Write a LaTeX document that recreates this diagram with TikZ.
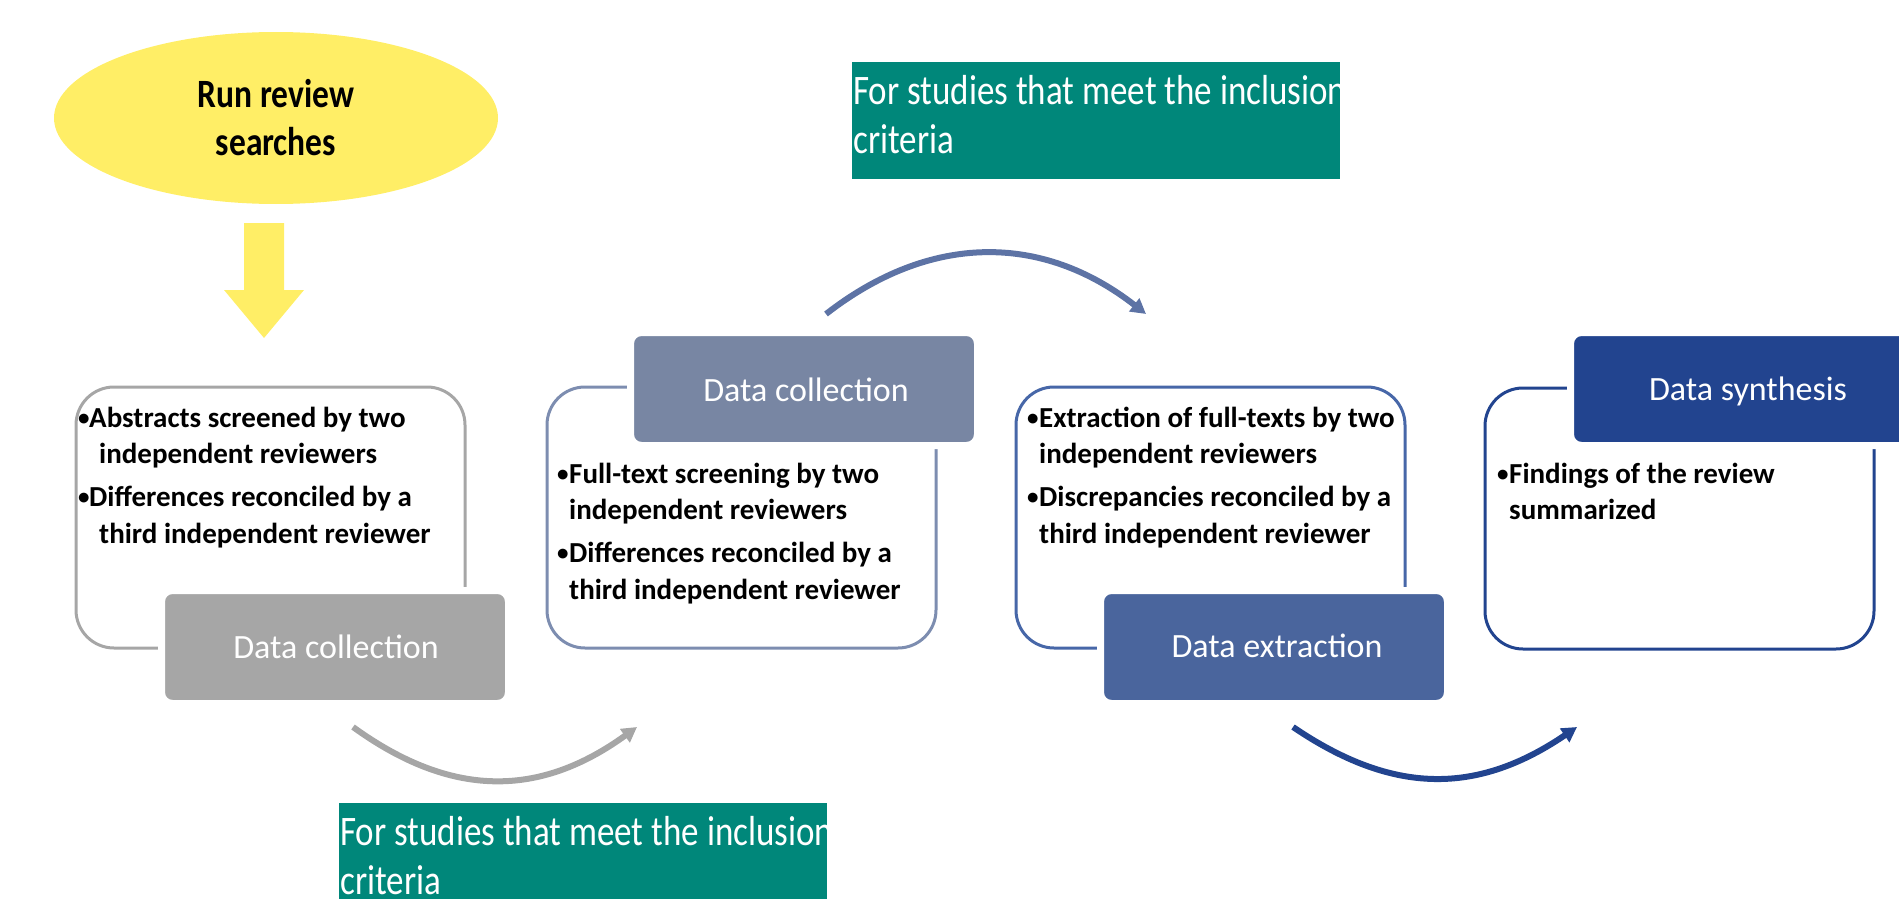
\documentclass[tikz,border=0pt]{standalone}
\usepackage{fontspec}
\setmainfont{Carlito}
\usetikzlibrary{arrows.meta,shapes.geometric}
\definecolor{yel}{HTML}{FFEE66}
\definecolor{tealbox}{HTML}{00877A}
\definecolor{grayc}{HTML}{A6A6A6}
\definecolor{slatefill}{HTML}{7886A3}
\definecolor{slateline}{HTML}{7D8DB0}
\definecolor{midfill}{HTML}{4A659D}
\definecolor{midline}{HTML}{4767A8}
\definecolor{darkfill}{HTML}{22448F}
\definecolor{arcslate}{HTML}{5D73A5}
\newcommand{\bul}[1][12pt]{\makebox[#1][l]{\raisebox{1.6pt}{\fontsize{23}{23}\selectfont •}}}
\begin{document}
\begin{tikzpicture}[x=1pt,y=-1pt,
  outline/.style={line width=3pt, rounded corners=38pt, minimum width=389pt, minimum height=261pt, anchor=north west, inner sep=0pt, outer sep=0pt},
  labelbox/.style={draw=white, line width=7pt, rounded corners=11pt, minimum width=347pt, minimum height=113pt, anchor=north west, inner sep=0pt, outer sep=0pt},
  labeltext/.style={anchor=base, inner sep=0pt, text=white, font=\fontsize{34}{40}\selectfont},
  bullets/.style={anchor=base west, inner sep=0pt, font=\bfseries\fontsize{29}{36.5}\selectfont},
  tealnode/.style={fill=tealbox, anchor=north west, inner sep=0pt, outer sep=0pt, minimum width=488pt, minimum height=117pt},
  tealtext/.style={anchor=base west, inner sep=0pt, text=white, font=\fontsize{35}{41}\selectfont},
  curvearrow/.style={line width=6pt, -{Triangle[length=15pt,width=16pt]}},
]
\useasboundingbox (0,0) rectangle (1899,899);
\clip (0,0) rectangle (1899,899);

% start ellipse and arrow
\node (run) [ellipse, fill=yel, minimum width=444pt, minimum height=172pt, inner sep=0pt] at (276,118) {};
\node (runtext) [anchor=base, inner sep=0pt, font=\bfseries\fontsize{33.5}{40.8}\selectfont] at (276,107)
  {\scalebox{1}[1.2]{\begin{tabular}[t]{@{}c@{}}Run review\\searches\end{tabular}}};
\fill[yel] (244,223) -- (284,223) -- (284,290) -- (304,290) -- (264,338) -- (224,290) -- (244,290) -- cycle;

% outline boxes
\node (b1) [outline, draw=grayc] at (76,387) {};
\node (b2) [outline, draw=slateline] at (547,387) {};
\node (b3) [outline, draw=midline] at (1016,387) {};
\node (b4) [outline, draw=darkfill] at (1485,388) {};

% label boxes (white halo hides the outline beneath)
\node (l1) [labelbox, fill=grayc] at (161.5,590.5) {};
\node (l2) [labelbox, fill=slatefill] at (630.5,332.5) {};
\node (l3) [labelbox, fill=midfill] at (1100.5,590.5) {};
\node (l4) [labelbox, fill=darkfill] at (1570.5,332.5) {};

\node (l1t) [labeltext] at (336,658) {Data collection};
\node (l2t) [labeltext] at (806,401) {Data collection};
\node (l3t) [labeltext] at (1277,657) {Data extraction};
\node (l4t) [labeltext] at (1748,400) {Data synthesis};

% bullet texts
\node (b1t) [bullets] at (78,427) {\begin{tabular}[t]{@{}l@{}}
  \bul[11pt]Abstracts screened by two\\
  \hspace*{21pt}independent reviewers\\[6.5pt]
  \bul[11pt]Differences reconciled by a\\
  \hspace*{21pt}third independent reviewer\end{tabular}};
\node (b2t) [bullets] at (557,483) {\begin{tabular}[t]{@{}l@{}}
  \bul Full-text screening by two\\
  \hspace*{12pt}independent reviewers\\[6.5pt]
  \bul Differences reconciled by a\\
  \hspace*{12pt}third independent reviewer\end{tabular}};
\node (b3t) [bullets] at (1027,427) {\begin{tabular}[t]{@{}l@{}}
  \bul Extraction of full-texts by two\\
  \hspace*{12pt}independent reviewers\\[6.5pt]
  \bul Discrepancies reconciled by a\\
  \hspace*{12pt}third independent reviewer\end{tabular}};
\node (b4t) [bullets] at (1497,483) {\begin{tabular}[t]{@{}l@{}}
  \bul Findings of the review\\
  \hspace*{12pt}summarized\end{tabular}};

% teal boxes
\begin{scope}
\clip (852,62) rectangle (1340,179);
\node (tb1) [tealnode] at (852,62) {};
\node (tb1t) [tealtext] at (853,104)
  {\scalebox{1}[1.2]{\begin{tabular}[t]{@{}l@{}}For studies that meet the inclusion\\criteria\end{tabular}}};
\end{scope}
\begin{scope}
\clip (339,803) rectangle (827,899);
\node (tb2) [tealnode] at (339,803) {};
\node (tb2t) [tealtext] at (340,845)
  {\scalebox{1}[1.2]{\begin{tabular}[t]{@{}l@{}}For studies that meet the inclusion\\criteria\end{tabular}}};
\end{scope}

% curved arrows
\coordinate (ga1) at (353,727);
\coordinate (ga2) at (637,727);
\coordinate (sa1) at (826,314);
\coordinate (sa2) at (1146,314);
\coordinate (da1) at (1293,727);
\coordinate (da2) at (1577,727);
\draw[curvearrow, grayc] (ga1) .. controls (451,798) and (539,798) .. (ga2);
\draw[curvearrow, arcslate] (sa1) .. controls (930,233) and (1042,233) .. (sa2);
\draw[curvearrow, darkfill] (da1) .. controls (1393,795) and (1477,795) .. (da2);
\end{tikzpicture}
\end{document}
